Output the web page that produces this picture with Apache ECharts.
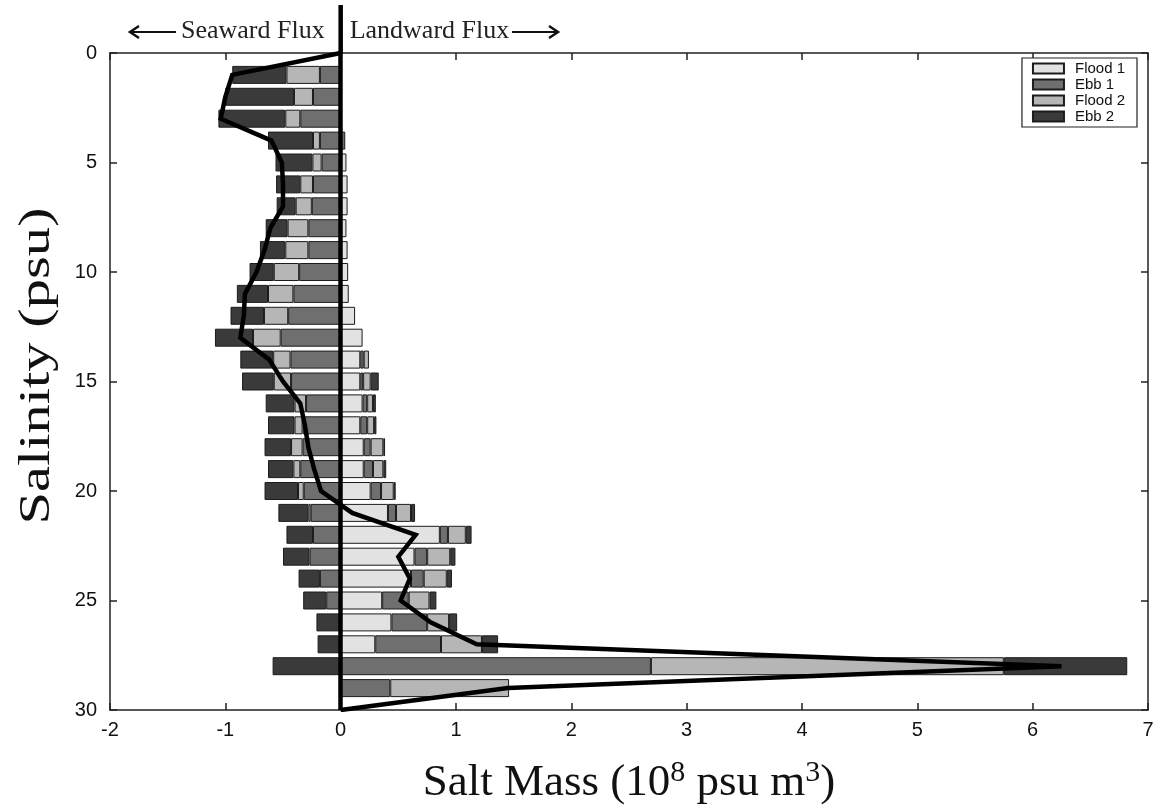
<!DOCTYPE html>
<html><head><meta charset="utf-8">
<script src="https://cdn.jsdelivr.net/npm/echarts@6/dist/echarts.min.js"></script>
<style>html,body{margin:0;padding:0;background:#fff}#c{width:1159px;height:810px}</style>
</head><body><div id="c"></div>
<script>
// Salinity categories (psu), 0..30; bars sit at 1..29
const salinity = ['0','1','2','3','4','5','6','7','8','9','10','11','12','13','14','15','16','17','18','19','20','21','22','23','24','25','26','27','28','29','30'];
const xTicks = [-2, 7, 1]; // min, max, interval

// Landward (positive) segments, rows salinity 1..29, units 10^8 psu m^3
const flood1Pos = [0,0,0,0,0.05,0.06,0.06,0.05,0.06,0.065,0.07,0.125,0.19,0.17,0.17,0.19,0.17,0.20,0.20,0.26,0.41,0.86,0.64,0.61,0.36,0.44,0.30,0,0];
const ebb1Pos   = [0,0,0,0.04,0,0,0,0,0,0,0,0,0,0.03,0.025,0.04,0.06,0.06,0.08,0.09,0.07,0.07,0.11,0.11,0.23,0.31,0.57,2.69,0.43];
const flood2Pos = [0,0,0,0,0,0,0,0,0,0,0,0,0,0.045,0.065,0.05,0.06,0.11,0.09,0.11,0.13,0.155,0.20,0.20,0.18,0.19,0.355,3.06,1.03];
const ebb2Pos   = [0,0,0,0,0,0,0,0,0,0,0,0,0,0,0.07,0.025,0.02,0.015,0.025,0.017,0.035,0.05,0.045,0.045,0.06,0.07,0.14,1.07,0];
// Seaward (negative) segments
const ebb1Neg   = [-0.18,-0.24,-0.35,-0.18,-0.165,-0.24,-0.25,-0.28,-0.28,-0.36,-0.41,-0.455,-0.52,-0.435,-0.43,-0.30,-0.33,-0.33,-0.35,-0.32,-0.26,-0.24,-0.27,-0.18,-0.125,0,0,0,0];
const flood2Neg = [-0.29,-0.165,-0.13,-0.06,-0.08,-0.11,-0.14,-0.18,-0.20,-0.22,-0.22,-0.21,-0.24,-0.15,-0.15,-0.10,-0.07,-0.10,-0.06,-0.05,-0.02,0,0,0,0,0,0,0,0];
const ebb2Neg   = [-0.47,-0.595,-0.58,-0.39,-0.32,-0.21,-0.165,-0.19,-0.22,-0.21,-0.27,-0.29,-0.33,-0.285,-0.275,-0.25,-0.23,-0.23,-0.22,-0.29,-0.26,-0.23,-0.23,-0.185,-0.20,-0.21,-0.20,-0.59,0];
// Net flux line, salinity 0..30
const netFlux = [0,-0.94,-1.00,-1.04,-0.60,-0.51,-0.50,-0.50,-0.61,-0.66,-0.73,-0.83,-0.84,-0.87,-0.62,-0.50,-0.35,-0.31,-0.28,-0.23,-0.17,0.10,0.65,0.50,0.60,0.52,0.78,1.18,6.25,1.45,0];

const colors = {'Flood 1':'#e2e2e2','Ebb 1':'#6f6f6f','Flood 2':'#b6b6b6','Ebb 2':'#3a3a3a'};
const pad = a => ['-'].concat(a.map(v => v === 0 ? '-' : v), ['-']);
const mk = (name, arr) => ({
  name, type:'bar', stack:'flux', stackStrategy:'samesign', data: pad(arr), barWidth: 18,
  xAxisIndex:0, yAxisIndex:0,
  itemStyle:{color: colors[name], borderColor:'#1c1c1c', borderWidth:1},
  emphasis:{disabled:true}, z:2
});

const chart = echarts.init(document.getElementById('c'), null, {renderer:'canvas'});
const sans = 'Liberation Sans';
const serif = 'Liberation Serif';
const option = {
  animation:false,
  backgroundColor:'#fff',
  grid:{left:110, right:11, top:53, bottom:100, containLabel:false, outerBoundsMode:'none'},
  legend:{
    data:['Flood 1','Ebb 1','Flood 2','Ebb 2'], orient:'vertical', right:22, top:58,
    icon:'rect', itemWidth:31, itemHeight:10, itemGap:1, padding:[3,12,3,10],
    borderColor:'#222', borderWidth:1.2, backgroundColor:'#fff',
    textStyle:{fontFamily:sans, fontSize:15, color:'#111', padding:[0,0,0,6]}, selectedMode:false
  },
  xAxis:[
    {type:'value', position:'bottom', min:xTicks[0], max:xTicks[1], interval:xTicks[2],
     axisLine:{show:true, onZero:false, lineStyle:{color:'#222', width:1.5}},
     axisTick:{show:true, inside:true, length:7, lineStyle:{color:'#222', width:1.5}},
     axisLabel:{fontFamily:sans, fontSize:20, color:'#111', margin:10},
     splitLine:{show:false},
     name:'Salt Mass (10{sup|8} psu m{sup|3})', nameLocation:'middle', nameGap:48,
     nameTextStyle:{fontFamily:serif, fontSize:45, color:'#111',
       rich:{sup:{fontFamily:serif, fontSize:30, color:'#111', padding:[0,0,20,0]}}}},
    {type:'value', position:'top', min:xTicks[0], max:xTicks[1], interval:xTicks[2],
     axisLine:{show:true, onZero:false, lineStyle:{color:'#222', width:1.5}},
     axisTick:{show:true, inside:true, length:7, lineStyle:{color:'#222', width:1.5}},
     axisLabel:{show:false}, splitLine:{show:false}}
  ],
  yAxis:[
    {type:'category', data:salinity, inverse:true, boundaryGap:false, position:'left',
     axisLine:{show:true, onZero:false, lineStyle:{color:'#222', width:1.5}},
     axisTick:{show:true, inside:true, length:7, interval:4, lineStyle:{color:'#222', width:1.5}},
     axisLabel:{interval:4, fontFamily:sans, fontSize:20, color:'#111', margin:13},
     splitLine:{show:false}},
    {type:'category', data:salinity, inverse:true, boundaryGap:false, position:'right',
     axisLine:{show:true, onZero:false, lineStyle:{color:'#222', width:1.5}},
     axisTick:{show:true, inside:true, length:7, interval:4, lineStyle:{color:'#222', width:1.5}},
     axisLabel:{show:false}, splitLine:{show:false}}
  ],
  series:[
    mk('Flood 1', flood1Pos), mk('Ebb 1', ebb1Pos), mk('Flood 2', flood2Pos), mk('Ebb 2', ebb2Pos),
    mk('Ebb 1', ebb1Neg), mk('Flood 2', flood2Neg), mk('Ebb 2', ebb2Neg),
    {name:'Net', type:'line', data:netFlux, xAxisIndex:0, yAxisIndex:0, showSymbol:false, symbol:'none',
     lineStyle:{color:'#000', width:4.5, join:'miter'}, z:10, emphasis:{disabled:true},
     markLine:{silent:true, symbol:'none', label:{show:false}, data:[{xAxis:0}],
       lineStyle:{color:'#000', width:4.5, type:'solid'}}}
  ]
};
chart.setOption(option);

const x0 = chart.convertToPixel({xAxisIndex:0}, 0);
chart.setOption({graphic:[
  {type:'line', shape:{x1:x0, y1:5, x2:x0, y2:54}, style:{stroke:'#000', lineWidth:4.5}, z:20},
  {type:'text', x:x0-16, y:31, style:{text:'Seaward Flux', font:'26px "Liberation Serif"', fill:'#222', align:'right', verticalAlign:'middle'}},
  {type:'text', x:x0+9, y:31, style:{text:'Landward Flux', font:'26px "Liberation Serif"', fill:'#222', align:'left', verticalAlign:'middle'}},
  {type:'line', shape:{x1:130, y1:32, x2:176, y2:32}, style:{stroke:'#111', lineWidth:2}},
  {type:'polyline', shape:{points:[[139,26],[130,32],[139,38]]}, style:{stroke:'#111', lineWidth:2.5, fill:null}},
  {type:'line', shape:{x1:512, y1:32, x2:558, y2:32}, style:{stroke:'#111', lineWidth:2}},
  {type:'polyline', shape:{points:[[549,26],[558,32],[549,38]]}, style:{stroke:'#111', lineWidth:2.5, fill:null}},
  {type:'text', x:37, y:366, rotation:Math.PI/2, scaleX:1.3,
   style:{text:'Salinity (psu)', font:'45px "Liberation Serif"', fill:'#111', align:'center', verticalAlign:'middle'}}
]});
</script></body></html>
